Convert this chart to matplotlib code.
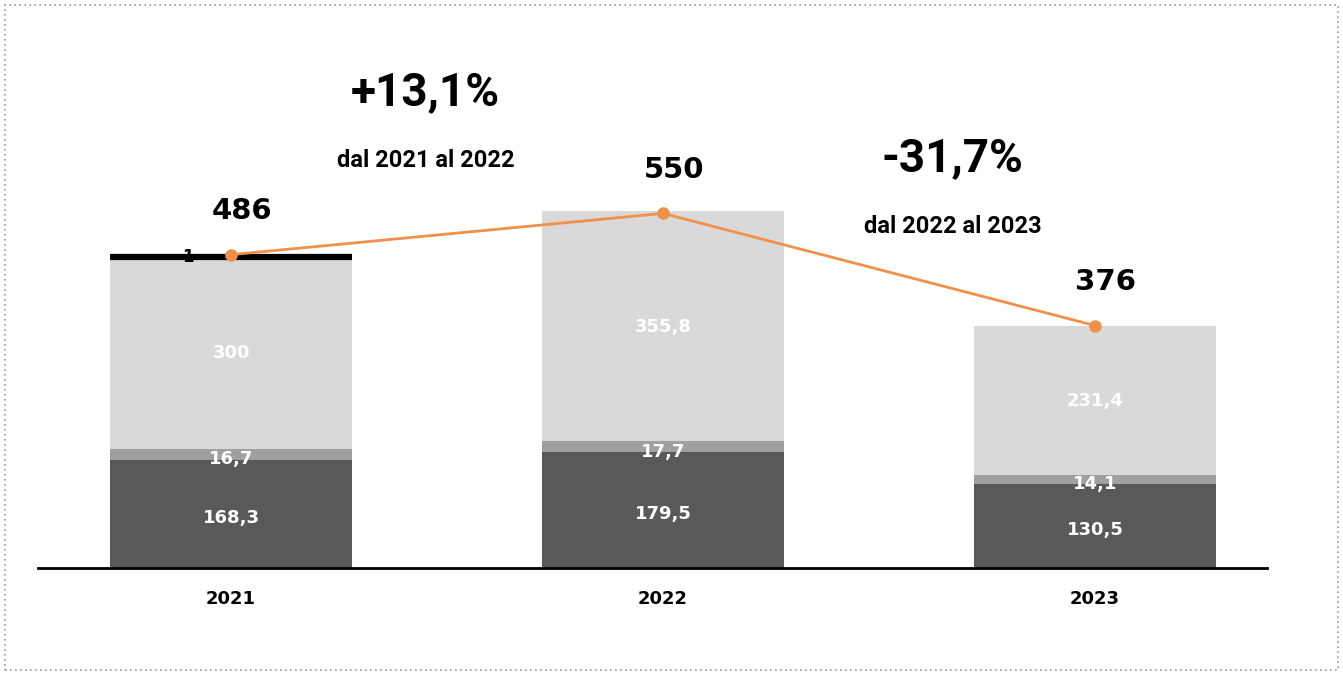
import matplotlib.pyplot as plt
from matplotlib.patches import Rectangle

years = ['2021', '2022', '2023']
dark = [168.3, 179.5, 130.5]
mid = [16.7, 17.7, 14.1]
light = [300, 355.8, 231.4]
black = [1, 0, 0]
totals = [486, 550, 376]
changes = ['+13,1%', '-31,7%']
change_sub = ['dal 2021 al 2022', 'dal 2022 al 2023']

def fmt(v):
    s = ('%.1f' % v).replace('.', ',')
    return s[:-2] if s.endswith(',0') else s

fig = plt.figure(figsize=(13.43, 6.75), dpi=100)
ax = fig.add_axes([0.0283, 0.1585, 0.9151, 0.8119])
x = list(range(len(years)))
w = 0.56

ax.bar(x, dark, w, color='#595959')
b2 = [d for d in dark]
ax.bar(x, mid, w, bottom=b2, color='#A0A09E')
b3 = [d + m for d, m in zip(dark, mid)]
ax.bar(x, light, w, bottom=b3, color='#D9D9D9')
b4 = [b + l for b, l in zip(b3, light)]
for i in x:
    if black[i]:
        ax.bar(i, black[i], w, bottom=b4[i] - 3, color='black', edgecolor='black', linewidth=4.5)
        ax.text(i - 0.1, b4[i] - 2, fmt(black[i]), ha='center', va='center',
                fontsize=12, fontweight='bold', color='black', family='DejaVu Sans')

lab = dict(ha='center', va='center', color='white', fontsize=13, fontweight='bold', family='DejaVu Sans')
for i in x:
    ax.text(i, dark[i] / 2 - 6, fmt(dark[i]), **lab)
    ax.text(i, b2[i] + mid[i] / 2 - 8, fmt(mid[i]), **lab)
    ax.text(i, b3[i] + light[i] / 2 - 2, fmt(light[i]), **lab)

ax.plot(x, totals, color='#F0904A', linewidth=2, marker='o', markersize=8, zorder=5)
for i in x:
    ax.text(i + 0.025, totals[i] + 67, str(totals[i]), ha='center', va='center',
            fontsize=21, fontweight='bold', color='black', family='DejaVu Sans')

pct_x = [0.45, 1.67]
pct_y = [738, 635]
for px, py, c, s in zip(pct_x, pct_y, changes, change_sub):
    ax.text(px, py, c, ha='center', va='center', fontsize=33, fontweight='bold', family='Roboto')
    ax.text(px, py - 106, s, ha='center', va='center', fontsize=17, fontweight='bold', family='Roboto')

ax.set_xlim(-0.447, 2.398)
ax.set_ylim(0, 850)
ax.set_xticks(x)
ax.set_xticklabels(years, fontsize=13, fontweight='bold', family='DejaVu Sans')
ax.tick_params(length=0, pad=16)
ax.set_yticks([])
for s in ['top', 'left', 'right']:
    ax.spines[s].set_visible(False)
ax.spines['bottom'].set_linewidth(2)

fig.patches.append(Rectangle((0.004, 0.007), 0.992, 0.986, transform=fig.transFigure,
                             fill=False, edgecolor='#999999', linestyle=(0, (1, 2)), linewidth=1.2))

fig.savefig('out.png', dpi=100)
